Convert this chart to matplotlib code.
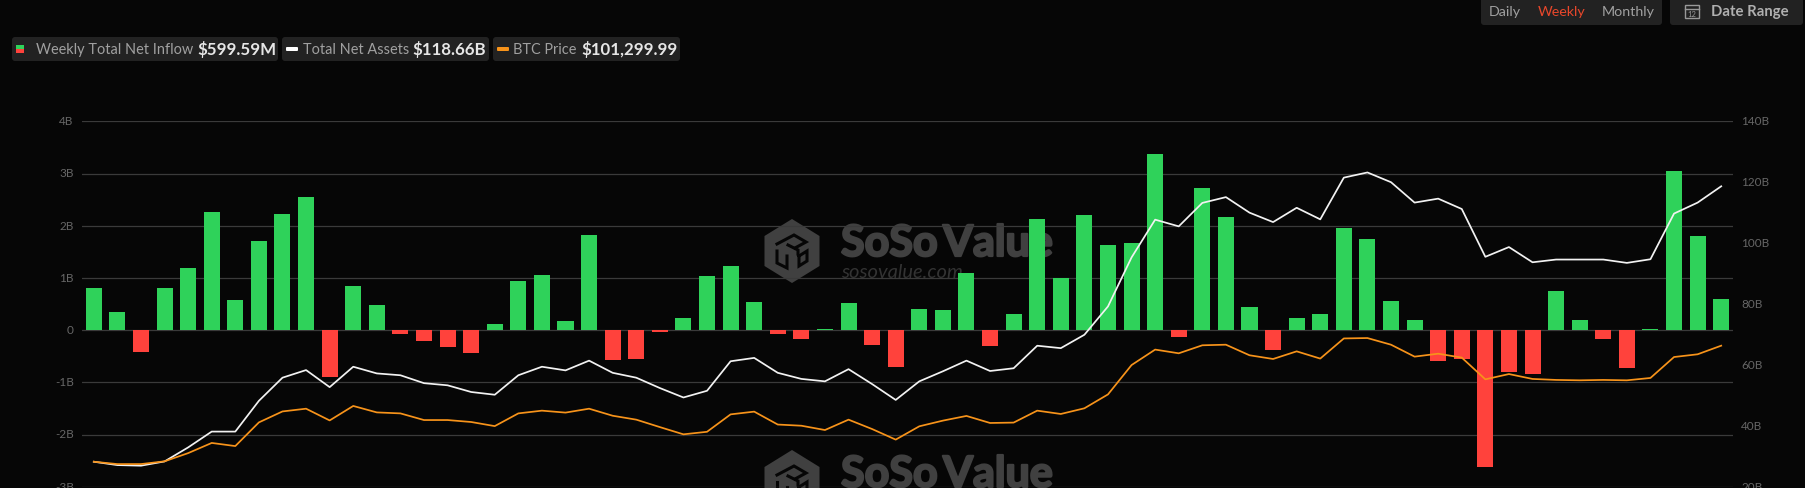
import matplotlib
matplotlib.use("Agg")
import matplotlib.pyplot as plt
import matplotlib.patheffects as pe
from matplotlib.patches import FancyBboxPatch, Polygon, Rectangle
from matplotlib.transforms import ScaledTranslation
import numpy as np

plt.rcParams['font.family'] = ['Lato', 'DejaVu Sans']

inflow_b = [0.81, 0.34, -0.41, 0.81, 1.19, 2.27, 0.58, 1.71, 2.23, 2.55,
            -0.89, 0.85, 0.48, -0.08, -0.20, -0.33, -0.43, 0.115, 0.94, 1.05,
            0.17, 1.82, -0.58, -0.545, -0.04, 0.24, 1.04, 1.23, 0.53, -0.08,
            -0.17, 0.03, 0.51, -0.28, -0.71, 0.40, 0.39, 1.10, -0.30, 0.30,
            2.12, 1.00, 2.21, 1.63, 1.67, 3.38, -0.14, 2.72, 2.16, 0.44,
            -0.39, 0.24, 0.30, 1.95, 1.75, 0.56, 0.20, -0.59, -0.56, -2.62,
            -0.80, -0.84, 0.74, 0.19, -0.17, -0.72, 0.02, 3.05, 1.80, 0.60]
net_assets_b = [28.2, 27.1, 26.9, 28.3, 32.9, 38.1, 38.1, 48.2, 55.8, 58.3,
                52.7, 59.4, 57.2, 56.6, 54.0, 53.3, 51.1, 50.2, 56.6, 59.4,
                58.2, 61.4, 57.4, 55.8, 52.4, 49.3, 51.5, 61.2, 62.3, 57.4,
                55.4, 54.6, 58.6, 53.7, 48.5, 54.6, 57.9, 61.4, 58.0, 58.9,
                66.3, 65.5, 69.9, 79.2, 95.3, 107.7, 105.5, 113.2, 115.1, 110.0,
                106.9, 111.6, 107.8, 121.5, 123.2, 120.0, 113.3, 114.6, 111.2, 95.5,
                98.7, 93.7, 94.6, 94.6, 94.6, 93.5, 94.7, 109.7, 113.3, 118.66]
btc_price_k = [42.0, 40.8, 40.8, 42.2, 46.4, 51.6, 50.0, 62.1, 67.7, 69.1,
               63.1, 70.5, 67.2, 66.7, 63.3, 63.3, 62.3, 60.2, 66.7, 68.1,
               67.1, 69.1, 65.5, 63.5, 59.7, 56.0, 57.3, 66.2, 67.6, 61.0,
               60.4, 58.2, 63.5, 58.7, 53.3, 60.1, 63.0, 65.4, 61.8, 62.0,
               68.1, 66.4, 69.3, 76.4, 91.4, 99.3, 97.4, 101.5, 101.8, 96.4,
               94.5, 98.4, 94.7, 105.0, 105.2, 101.8, 95.7, 97.2, 95.2, 84.1,
               86.8, 84.3, 83.8, 83.6, 83.8, 83.6, 84.8, 95.5, 96.9, 101.3]
left_ticks = [-3, -2, -1, 0, 1, 2, 3, 4]
left_labels = ['-3B', '-2B', '-1B', '0', '1B', '2B', '3B', '4B']
right_ticks = [20, 40, 60, 80, 100, 120, 140]
right_labels = ['20B', '40B', '60B', '80B', '100B', '120B', '140B']

W, H = 1805, 489
BG = '#060606'
GREEN, RED = '#2fd25a', '#ff423c'
fig = plt.figure(figsize=(W / 100, H / 100), dpi=100, facecolor=BG)

# pixel-space layer for the page furniture and the watermark
ui = fig.add_axes([0, 0, 1, 1], zorder=0)
ui.set_xlim(0, W)
ui.set_ylim(H, 0)
ui.axis('off')


def pill(x0, x1, y0, y1, color='#222222'):
    ui.add_patch(FancyBboxPatch((x0 + 3, y0 + 3), x1 - x0 - 6, y1 - y0 - 6,
                                boxstyle='round,pad=3', fc=color, ec='none'))


for a, b in [(12, 278), (282, 489), (493, 680)]:
    pill(a, b, 38, 62)
pill(1481, 1662, -6, 26)
pill(1670, 1803, -6, 26)

ui.add_patch(Rectangle((16, 46), 8, 4, fc=GREEN, ec='none'))
ui.add_patch(Rectangle((16, 50), 8, 4, fc=RED, ec='none'))
ui.add_patch(FancyBboxPatch((287, 49), 10, 2, boxstyle='round,pad=1', fc='#ffffff', ec='none'))
ui.add_patch(FancyBboxPatch((498, 49), 10, 2, boxstyle='round,pad=1', fc='#f7931a', ec='none'))

GREY = '#a0a0a0'
for x, s in [(36, 'Weekly Total Net Inflow'), (303, 'Total Net Assets'), (513, 'BTC Price')]:
    ui.text(x, 50, s, color=GREY, fontsize=10.45, va='center', ha='left')
for x, s in [(197, '$599.59M'), (412, '$118.66B'), (581, '$101,299.99')]:
    ui.text(x, 50, s, color='#e6e6e6', fontsize=12.2, va='center', ha='left', fontweight='bold')
for x, s, c in [(1489, 'Daily', GREY), (1538, 'Weekly', '#e8472b'), (1602, 'Monthly', GREY)]:
    ui.text(x, 12, s, color=c, fontsize=10.3, va='center', ha='left')
ui.text(1711, 12, 'Date Range', color='#b0b0b0', fontsize=10.7, va='center', ha='left', fontweight='bold')
ui.add_patch(Rectangle((1685, 6), 14, 13, fc='none', ec='#999999', lw=1))
ui.plot([1685, 1699], [9.5, 9.5], color='#999999', lw=1)
ui.text(1692, 14.5, '12', color='#999999', fontsize=5.5, ha='center', va='center')

MARK = '#404040'


def watermark(dy):
    cx, cy = 792, 252 + dy
    hex_pts = [(cx, cy - 32), (cx + 27.5, cy - 15), (cx + 27.5, cy + 15),
               (cx, cy + 32), (cx - 27.5, cy + 15), (cx - 27.5, cy - 15)]
    ui.add_patch(Polygon(hex_pts, closed=True, fc=MARK, ec='none'))
    for sx, sy in [([-15, 2, 14, 3], [-7, -16, -9, -3]),
                   ([-15, -15, -5, -5], [0, 12, 17, 5]),
                   ([7, 7, 15, 15, 7], [5, 15, 10, 0, 5]),
                   ([-4, 6, 6], [-6, -1, 3])]:
        ui.plot([cx + v for v in sx], [cy + v for v in sy], color=BG, lw=2.2,
                solid_joinstyle='miter')
    ui.text(841, 244 + dy, 'SoSo\u2009Value', color=MARK, fontsize=31, fontweight='bold',
            va='center', ha='left', clip_on=True,
            path_effects=[pe.withStroke(linewidth=1.6, foreground=MARK)])
    ui.text(841, 273 + dy, 'sosovalue.com', color='#333333', fontsize=14.5, style='italic',
            va='center', ha='left', clip_on=True)


watermark(0)
watermark(231)

# chart
L, R, T, B = 82, 1733, 122.3, 487.7
rect = [L / W, 1 - B / H, (R - L) / W, (B - T) / H]
ax = fig.add_axes(rect, zorder=1, facecolor='none')
x = np.arange(len(inflow_b))
ax.set_axisbelow(True)
ax.bar(x, inflow_b, width=0.68, color=[GREEN if v >= 0 else RED for v in inflow_b], zorder=3)
ax.set_xlim(-0.5, 69.5)
ax.set_ylim(-3, 4)
ax.set_yticks(left_ticks, left_labels)
ax.set_xticks([])
ax.grid(axis='y', color='#3a3a3a', lw=0.9)
ax.tick_params(axis='y', length=0, pad=6, labelcolor='#666666', labelsize=8.5)
for s in ax.spines.values():
    s.set_visible(False)

ax2 = ax.twinx()
ax2.plot(x, net_assets_b, color='#f2f2f2', lw=1.25, zorder=4)
ax2.set_ylim(20, 140)
ax2.set_yticks(right_ticks, right_labels)
ax2.tick_params(axis='y', length=0, pad=6, labelcolor='#666666', labelsize=8.5)

ax3 = ax.twinx()
ax3.plot(x, btc_price_k, color='#f7931a', lw=1.25, zorder=4)
ax3.set_ylim(29.24, 215.95)
ax3.set_yticks([])
for a in (ax2, ax3):
    for s in a.spines.values():
        s.set_visible(False)

# tick labels sit slightly above their nominal heights in the reference
up = ScaledTranslation(0, 1.5 / 100, fig.dpi_scale_trans)
for lab in ax.get_yticklabels() + ax2.get_yticklabels():
    lab.set_transform(lab.get_transform() + up)

fig.savefig('out.png', dpi=100, facecolor=BG)
